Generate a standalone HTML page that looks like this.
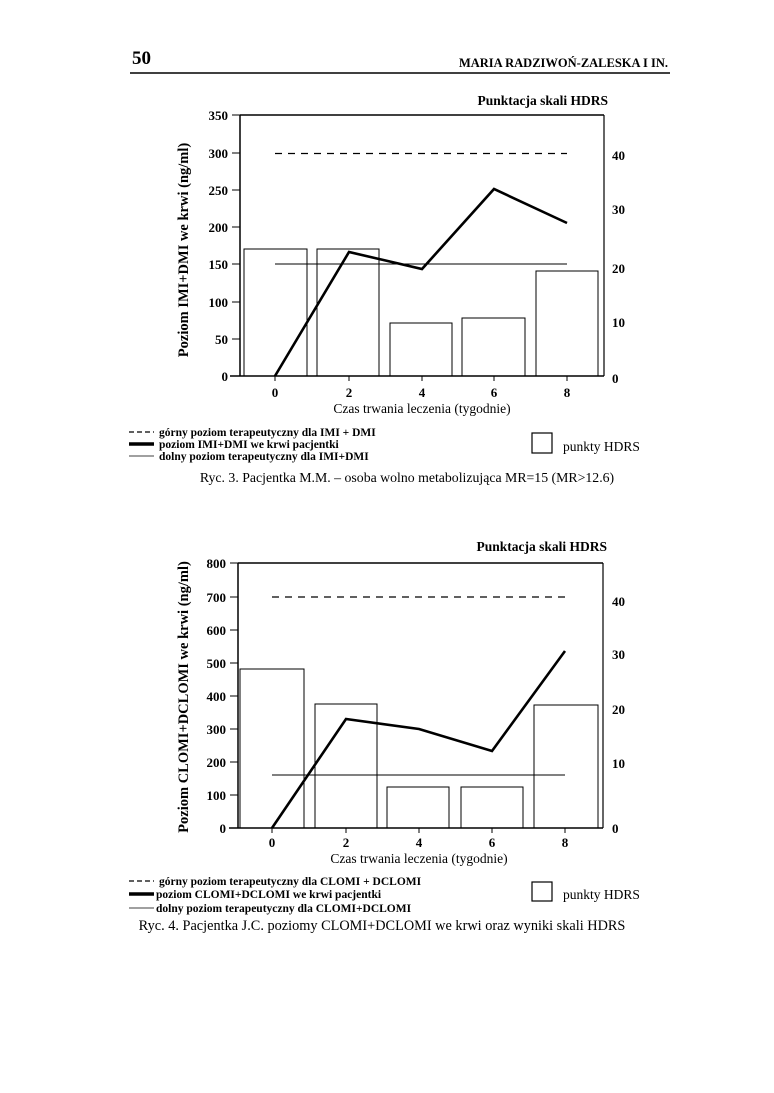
<!DOCTYPE html>
<html><head><meta charset="utf-8"><style>
html,body{margin:0;padding:0;background:#fff;}
svg{display:block;font-family:"Liberation Serif",serif;}
</style></head><body>
<svg width="774" height="1093" viewBox="0 0 774 1093" xmlns="http://www.w3.org/2000/svg">
<rect width="774" height="1093" fill="#fff"/>
<text x="132" y="64" font-size="19" font-weight="bold">50</text>
<text x="668" y="67" font-size="12.5" font-weight="bold" text-anchor="end">MARIA RADZIWOŃ-ZALESKA I IN.</text>
<line x1="130" y1="73" x2="670" y2="73" stroke="#000" stroke-width="1.5"/>

<!-- Chart 1 -->
<g stroke="#000" fill="none">
<line x1="240" y1="115" x2="604" y2="115" stroke-width="1.5"/>
<line x1="240" y1="115" x2="240" y2="376" stroke-width="1.5"/>
<line x1="604" y1="115" x2="604" y2="376" stroke-width="1.2"/>
<line x1="230" y1="376" x2="604" y2="376" stroke-width="1.5"/>
<g stroke-width="1">
<line x1="232" y1="115" x2="240" y2="115"/><line x1="232" y1="153" x2="240" y2="153"/><line x1="232" y1="190" x2="240" y2="190"/><line x1="232" y1="227" x2="240" y2="227"/><line x1="232" y1="264" x2="240" y2="264"/><line x1="232" y1="302" x2="240" y2="302"/><line x1="232" y1="339" x2="240" y2="339"/>
<line x1="275" y1="376" x2="275" y2="381"/><line x1="349" y1="376" x2="349" y2="381"/><line x1="422" y1="376" x2="422" y2="381"/><line x1="494" y1="376" x2="494" y2="381"/><line x1="567" y1="376" x2="567" y2="381"/>
<rect x="244" y="249" width="63" height="127"/><rect x="317" y="249" width="62" height="127"/><rect x="390" y="323" width="62" height="53"/><rect x="462" y="318" width="63" height="58"/><rect x="536" y="271" width="62" height="105"/>
<line x1="275" y1="264" x2="567" y2="264"/>
</g>
<line x1="275" y1="153.5" x2="567" y2="153.5" stroke-width="1.2" stroke-dasharray="7,6"/>
<polyline points="275,376 349,252 422,269 494,189 567,223" stroke-width="2.6"/>
</g>
<g font-size="13" font-weight="bold" text-anchor="end">
<text x="228" y="120">350</text><text x="228" y="158">300</text><text x="228" y="195">250</text><text x="228" y="232">200</text><text x="228" y="269">150</text><text x="228" y="307">100</text><text x="228" y="344">50</text><text x="228" y="381">0</text>
</g>
<g font-size="13" font-weight="bold">
<text x="612" y="160">40</text><text x="612" y="214">30</text><text x="612" y="273">20</text><text x="612" y="327">10</text><text x="612" y="383">0</text>
</g>
<g font-size="13" font-weight="bold" text-anchor="middle">
<text x="275" y="397">0</text><text x="349" y="397">2</text><text x="422" y="397">4</text><text x="494" y="397">6</text><text x="567" y="397">8</text>
</g>
<text x="422" y="413" font-size="13.5" text-anchor="middle">Czas trwania leczenia (tygodnie)</text>
<text x="608" y="105" font-size="13.5" font-weight="bold" text-anchor="end">Punktacja skali HDRS</text>
<text transform="translate(188,250) rotate(-90)" font-size="14.5" font-weight="bold" text-anchor="middle">Poziom IMI+DMI we krwi (ng/ml)</text>
<g stroke="#000">
<line x1="129" y1="432" x2="154" y2="432" stroke-width="1.2" stroke-dasharray="5,3"/>
<line x1="129" y1="444" x2="154" y2="444" stroke-width="3.5"/>
<line x1="129" y1="456" x2="154" y2="456" stroke-width="0.8"/>
<rect x="532" y="433" width="20" height="20" fill="none" stroke-width="1.2"/>
</g>
<g font-size="11.5" font-weight="bold">
<text x="159" y="436">górny poziom terapeutyczny dla IMI  + DMI</text>
<text x="159" y="448">poziom IMI+DMI we krwi pacjentki</text>
<text x="159" y="460">dolny poziom terapeutyczny dla IMI+DMI</text>
</g>
<text x="563" y="451" font-size="13.5">punkty HDRS</text>
<text x="407" y="482" font-size="13.8" text-anchor="middle">Ryc. 3. Pacjentka M.M. – osoba wolno metabolizująca MR=15 (MR&gt;12.6)</text>

<!-- Chart 2 -->
<g stroke="#000" fill="none">
<line x1="238" y1="563" x2="603" y2="563" stroke-width="1.5"/>
<line x1="238" y1="563" x2="238" y2="828" stroke-width="1.5"/>
<line x1="603" y1="563" x2="603" y2="828" stroke-width="1.2"/>
<line x1="229" y1="828" x2="603" y2="828" stroke-width="1.5"/>
<g stroke-width="1">
<line x1="230" y1="563" x2="238" y2="563"/><line x1="230" y1="597" x2="238" y2="597"/><line x1="230" y1="630" x2="238" y2="630"/><line x1="230" y1="663" x2="238" y2="663"/><line x1="230" y1="696" x2="238" y2="696"/><line x1="230" y1="729" x2="238" y2="729"/><line x1="230" y1="762" x2="238" y2="762"/><line x1="230" y1="795" x2="238" y2="795"/>
<line x1="272" y1="828" x2="272" y2="833"/><line x1="346" y1="828" x2="346" y2="833"/><line x1="419" y1="828" x2="419" y2="833"/><line x1="492" y1="828" x2="492" y2="833"/><line x1="565" y1="828" x2="565" y2="833"/>
<rect x="240" y="669" width="64" height="159"/><rect x="315" y="704" width="62" height="124"/><rect x="387" y="787" width="62" height="41"/><rect x="461" y="787" width="62" height="41"/><rect x="534" y="705" width="64" height="123"/>
<line x1="272" y1="775" x2="565" y2="775"/>
</g>
<line x1="272" y1="597" x2="568" y2="597" stroke-width="1.2" stroke-dasharray="7,6"/>
<polyline points="272,828 346,719 419,729 492,751 565,651" stroke-width="2.6"/>
</g>
<g font-size="13" font-weight="bold" text-anchor="end">
<text x="226" y="568">800</text><text x="226" y="602">700</text><text x="226" y="635">600</text><text x="226" y="668">500</text><text x="226" y="701">400</text><text x="226" y="734">300</text><text x="226" y="767">200</text><text x="226" y="800">100</text><text x="226" y="833">0</text>
</g>
<g font-size="13" font-weight="bold">
<text x="612" y="606">40</text><text x="612" y="659">30</text><text x="612" y="714">20</text><text x="612" y="768">10</text><text x="612" y="833">0</text>
</g>
<g font-size="13" font-weight="bold" text-anchor="middle">
<text x="272" y="847">0</text><text x="346" y="847">2</text><text x="419" y="847">4</text><text x="492" y="847">6</text><text x="565" y="847">8</text>
</g>
<text x="419" y="863" font-size="13.5" text-anchor="middle">Czas trwania leczenia (tygodnie)</text>
<text x="607" y="551" font-size="13.5" font-weight="bold" text-anchor="end">Punktacja skali HDRS</text>
<text transform="translate(188,697) rotate(-90)" font-size="14.5" font-weight="bold" text-anchor="middle">Poziom CLOMI+DCLOMI we krwi (ng/ml)</text>
<g stroke="#000">
<line x1="129" y1="881" x2="154" y2="881" stroke-width="1.2" stroke-dasharray="5,3"/>
<line x1="129" y1="894" x2="154" y2="894" stroke-width="3.5"/>
<line x1="129" y1="908" x2="154" y2="908" stroke-width="0.8"/>
<rect x="532" y="882" width="20" height="19" fill="none" stroke-width="1.2"/>
</g>
<g font-size="11.5" font-weight="bold">
<text x="159" y="885">górny poziom terapeutyczny dla CLOMI  + DCLOMI</text>
<text x="156" y="898">poziom CLOMI+DCLOMI we krwi pacjentki</text>
<text x="156" y="912">dolny poziom terapeutyczny dla CLOMI+DCLOMI</text>
</g>
<text x="563" y="899" font-size="13.5">punkty HDRS</text>
<text x="382" y="930" font-size="14.3" text-anchor="middle">Ryc. 4. Pacjentka J.C. poziomy CLOMI+DCLOMI we krwi oraz wyniki skali HDRS</text>
</svg>
</body></html>
